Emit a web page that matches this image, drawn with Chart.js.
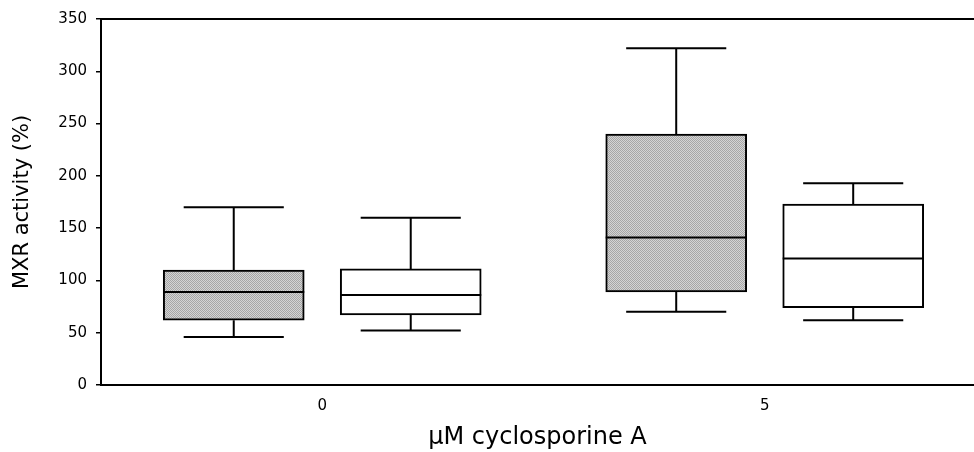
<!DOCTYPE html>
<html>
<head>
<meta charset="utf-8">
<script src="https://cdn.jsdelivr.net/npm/chart.js@4/dist/chart.umd.min.js"></script>
<style>
  html, body { margin: 0; padding: 0; background: #fff; }
  #wrap { width: 974px; height: 452px; position: relative; }
</style>
</head>
<body>
<div id="wrap"><canvas id="boxChart"></canvas></div>
<script>
// cyclosporine A doses (uM) on the x axis
const doses = ["0", "5"];
const yTicks = [0, 50, 100, 150, 200, 250, 300, 350];

// shaded boxes
const shadedMin = [46, 70];
const shadedQ1 = [62, 89];
const shadedMedian = [89, 141];
const shadedQ3 = [110, 240];
const shadedMax = [170, 322];

// open boxes
const openMin = [52, 62];
const openQ1 = [67, 74];
const openMedian = [86, 121];
const openQ3 = [111, 173];
const openMax = [160, 193];

function makeHatch() {
  const c = document.createElement("canvas");
  c.width = 2;
  c.height = 2;
  const g = c.getContext("2d");
  g.fillStyle = "#d4d4d4";
  g.fillRect(0, 0, 2, 2);
  g.fillStyle = "#a6a6a6";
  g.fillRect(0, 0, 1, 1);
  g.fillRect(1, 1, 1, 1);
  return g.createPattern(c, "repeat");
}

const groups = [
  { min: shadedMin, q1: shadedQ1, med: shadedMedian, q3: shadedQ3, max: shadedMax, shift: -0.2, fill: makeHatch() },
  { min: openMin, q1: openQ1, med: openMedian, q3: openQ3, max: openMax, shift: 0.2, fill: "#ffffff" },
];

// whiskers, caps and medians on top of the box bars
const whiskers = {
  id: "whiskers",
  afterDatasetsDraw(chart) {
    const { ctx, scales: { y }, chartArea } = chart;
    ctx.save();
    ctx.strokeStyle = "#000";
    ctx.lineWidth = 2;
    ctx.lineCap = "butt";
    groups.forEach((grp, di) => {
      chart.getDatasetMeta(di).data.forEach((bar, i) => {
        const { x, width } = bar.getProps(["x", "width"], true);
        const half = width / 2;
        const cap = width * 0.355;
        const yMed = y.getPixelForValue(grp.med[i]);
        const yQ1 = y.getPixelForValue(grp.q1[i]);
        const yQ3 = y.getPixelForValue(grp.q3[i]);
        const yMin = y.getPixelForValue(grp.min[i]);
        const yMax = y.getPixelForValue(grp.max[i]);
        ctx.beginPath();
        ctx.moveTo(x - half, yMed);
        ctx.lineTo(x + half, yMed);
        ctx.moveTo(x, yQ3);
        ctx.lineTo(x, yMax);
        ctx.moveTo(x - cap, yMax);
        ctx.lineTo(x + cap, yMax);
        ctx.moveTo(x, yQ1);
        ctx.lineTo(x, yMin);
        ctx.moveTo(x - cap, yMin);
        ctx.lineTo(x + cap, yMin);
        ctx.stroke();
      });
    });
    // top frame line
    ctx.beginPath();
    ctx.moveTo(chartArea.left, chartArea.top);
    ctx.lineTo(chartArea.right, chartArea.top);
    ctx.stroke();
    ctx.restore();
  },
};

Chart.defaults.font.family = "'DejaVu Sans', sans-serif";
Chart.defaults.color = "#000";

new Chart(document.getElementById("boxChart"), {
  type: "bar",
  data: {
    datasets: groups.map((grp) => ({
      data: doses.map((d, i) => ({ x: i + grp.shift, y: [grp.q1[i], grp.q3[i]] })),
      backgroundColor: grp.fill,
      borderColor: "#000",
      borderWidth: 2,
      borderSkipped: false,
      barThickness: 141,
      grouped: false,
    })),
  },
  options: {
    responsive: true,
    maintainAspectRatio: false,
    animation: false,
    layout: { padding: { top: 19, right: 0, left: 0, bottom: 0 } },
    plugins: {
      legend: { display: false },
      tooltip: { enabled: false },
    },
    scales: {
      x: {
        type: "linear",
        min: -0.5,
        max: 1.473,
        offset: false,
        afterBuildTicks: (scale) => {
          scale.ticks = doses.map((d, i) => ({ value: i }));
        },
        afterFit: (scale) => { scale.height = 67; },
        ticks: {
          font: { size: 15 },
          padding: 12,
          callback: (v, i) => doses[i],
        },
        grid: { display: true, drawOnChartArea: false, drawTicks: false },
        border: { color: "#000", width: 2 },
        title: {
          display: true,
          text: "µM cyclosporine A",
          font: { size: 24 },
          padding: { top: 0, bottom: 0 },
        },
      },
      y: {
        min: 0,
        max: 350,
        afterBuildTicks: (scale) => {
          scale.ticks = yTicks.map((v) => ({ value: v }));
        },
        afterFit: (scale) => { scale.width = 101; },
        ticks: { font: { size: 15 }, padding: 9 },
        grid: { drawOnChartArea: false, tickLength: 5, color: "#000", lineWidth: 1.5 },
        border: { color: "#000", width: 2 },
        title: {
          display: true,
          text: "MXR activity (%)",
          font: { size: 21 },
          padding: { top: 10, bottom: 0 },
        },
      },
    },
  },
  plugins: [whiskers],
});
</script>
</body>
</html>
